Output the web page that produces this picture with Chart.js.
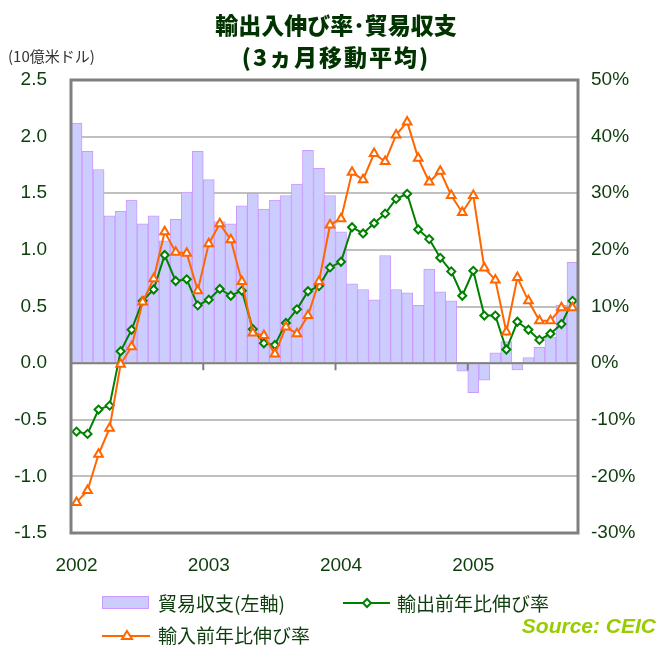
<!DOCTYPE html>
<html>
<head>
<meta charset="utf-8">
<script src="https://cdn.jsdelivr.net/npm/chart.js@4"></script>
<style>
  body { margin: 0; background: #fff; }
  #wrap { position: relative; width: 658px; height: 645px; overflow: hidden;
          font-family: "Liberation Sans", "Noto Sans CJK JP", sans-serif; }
  #chart { position: absolute; left: 0; top: 0; }
  .title { position: absolute; left: 0; width: 672px; text-align: center;
           font-family: "Noto Sans CJK JP", sans-serif; font-weight: 900;
           font-size: 23px; color: #003300; line-height: 26px; }
  .unit { position: absolute; left: 8px; top: 45px; font-size: 15px; color: #333;
          font-family: "Noto Sans CJK JP", sans-serif; }
  .leg { position: absolute; font-family: "Noto Sans CJK JP", sans-serif;
         font-size: 19px; color: #0d3d0d; line-height: 22px; white-space: nowrap; }
  .leg svg { position: absolute; }
  .source { position: absolute; right: 2px; top: 614px; font-weight: bold;
            font-style: italic; font-size: 21px; color: #99cc00; }
</style>
</head>
<body>
<div id="wrap">
  <canvas id="chart" width="658" height="645"></canvas>
  <div class="title" style="top:11px">輸出入伸び率･貿易収支</div>
  <div class="title" style="top:43px; letter-spacing:2px">(3ヵ月移動平均)</div>
  <div class="unit">(10億米ドル)</div>

  <div class="leg" style="left:102px; top:592px; padding-left:56px">
    <svg width="48" height="14" style="left:0; top:4px"><rect x="0.5" y="0.5" width="46" height="12" fill="#ccccff" stroke="#cc99ff"/></svg>
    貿易収支(左軸)
  </div>
  <div class="leg" style="left:343px; top:592px; padding-left:54px">
    <svg width="48" height="14" style="left:0; top:4px"><line x1="0" y1="7" x2="47" y2="7" stroke="#008000" stroke-width="2"/><polygon points="24,3 28,7 24,11 20,7" fill="#fff" stroke="#008000" stroke-width="2"/></svg>
    輸出前年比伸び率
  </div>
  <div class="leg" style="left:102px; top:624px; padding-left:56px">
    <svg width="50" height="14" style="left:0; top:4px"><line x1="0" y1="8" x2="48" y2="8" stroke="#ff6600" stroke-width="2"/><polygon points="25,3 30,11 20,11" fill="#fff" stroke="#ff6600" stroke-width="2"/></svg>
    輸入前年比伸び率
  </div>
  <div class="source">Source: CEIC</div>
</div>

<script>
// --- DATA ---
const years = [2002, 2003, 2004, 2005];
const months = [];
years.forEach(y => { for (let m = 1; m <= 12; m++) months.push(y + '-' + m); });
months.length = 46; // Jan 2002 .. Oct 2005

// trade balance, 10 bn USD (left axis)
const tradeBalance = [
  2.12, 1.87, 1.71, 1.30, 1.34, 1.44, 1.23, 1.30, 1.08, 1.27, 1.51, 1.87,
  1.62, 1.25, 1.23, 1.39, 1.50, 1.36, 1.44, 1.48, 1.58, 1.88, 1.72, 1.48,
  1.16, 0.70, 0.65, 0.56, 0.95, 0.65, 0.62, 0.51, 0.83, 0.63, 0.55, -0.07,
  -0.26, -0.15, 0.09, 0.19, -0.06, 0.05, 0.14, 0.23, 0.51, 0.89
];
// export growth yoy, % (right axis)
const exportGrowth = [
  -12.1, -12.5, -8.2, -7.5, 2.1, 5.9, 11.0, 13.0, 19.1, 14.5, 14.8, 10.2,
  11.2, 13.1, 11.9, 12.8, 6.0, 3.5, 3.2, 7.1, 9.5, 12.7, 13.6, 16.9,
  17.9, 24.0, 22.9, 24.7, 26.4, 29.0, 29.9, 23.6, 21.9, 18.6, 16.2, 11.9,
  16.3, 8.4, 8.4, 2.4, 7.3, 5.9, 4.1, 5.2, 6.9, 11.0
];
// import growth yoy, % (right axis)
const importGrowth = [
  -24.6, -22.5, -16.1, -11.5, -0.2, 2.9, 10.8, 14.9, 23.2, 19.6, 19.4, 12.8,
  21.1, 24.6, 21.8, 14.4, 5.3, 4.9, 1.6, 6.4, 5.2, 8.4, 14.4, 24.4,
  25.5, 33.7, 32.4, 37.0, 35.6, 40.3, 42.6, 36.2, 32.0, 33.9, 29.6, 26.6,
  29.6, 16.8, 14.7, 5.5, 15.1, 11.0, 7.5, 7.5, 9.8, 9.8
];
const leftTicks = { min: -1.5, max: 2.5, step: 0.5 };
const rightTicks = { min: -30, max: 50, step: 10 };

const tickFont = { family: '"Liberation Sans", Arial, sans-serif', size: 19 };
const tickColor = '#0d3d0d';

// frame, zero line and year tick marks
const framePlugin = {
  id: 'frame',
  afterDatasetDraw(chart, args) {
    if (args.meta.type !== 'bar') return;
    const { ctx, chartArea: a, scales } = chart;
    const y0 = scales.y.getPixelForValue(0);
    ctx.save();
    ctx.strokeStyle = '#808080';
    ctx.lineWidth = 2;
    ctx.beginPath();
    ctx.moveTo(a.left, y0);
    ctx.lineTo(a.right, y0);
    for (let i = 12; i < months.length; i += 12) {
      const x = (scales.x.getPixelForValue(i - 1) + scales.x.getPixelForValue(i)) / 2;
      ctx.moveTo(x, y0);
      ctx.lineTo(x, y0 + 7);
    }
    ctx.stroke();
    ctx.restore();
  },
  afterDraw(chart) {
    const { ctx, chartArea: a } = chart;
    ctx.save();
    ctx.strokeStyle = '#808080';
    ctx.lineWidth = 3;
    ctx.strokeRect(a.left, a.top, a.right - a.left, a.bottom - a.top);
    ctx.restore();
  }
};

new Chart(document.getElementById('chart'), {
  type: 'bar',
  data: {
    labels: months,
    datasets: [
      {
        type: 'line', label: '輸入前年比伸び率', data: importGrowth, yAxisID: 'y2', order: 1,
        borderColor: '#ff6600', borderWidth: 2, pointStyle: 'triangle', pointRadius: 5,
        pointBackgroundColor: '#fff', pointBorderColor: '#ff6600', pointBorderWidth: 2
      },
      {
        type: 'line', label: '輸出前年比伸び率', data: exportGrowth, yAxisID: 'y2', order: 2,
        borderColor: '#008000', borderWidth: 2, pointStyle: 'rectRot', pointRadius: 4,
        pointBackgroundColor: '#fff', pointBorderColor: '#008000', pointBorderWidth: 2
      },
      {
        type: 'bar', label: '貿易収支(左軸)', data: tradeBalance, yAxisID: 'y', order: 3,
        backgroundColor: '#ccccff', borderColor: '#cc99ff', borderWidth: 1,
        categoryPercentage: 1, barPercentage: 1
      }
    ]
  },
  options: {
    responsive: false,
    animation: false,
    layout: { padding: { top: 80, left: 0, right: 0, bottom: 0 } },
    plugins: { legend: { display: false }, title: { display: false }, tooltip: { enabled: false } },
    scales: {
      x: {
        type: 'category', offset: true,
        grid: { display: false, drawTicks: false },
        border: { display: false },
        ticks: {
          autoSkip: false, maxRotation: 0, padding: 21, font: tickFont, color: tickColor,
          callback: (v, i) => (i % 12 === 0 ? String(years[i / 12]) : '')
        },
        afterFit: s => { s.height = 112; }
      },
      y: {
        position: 'left', min: leftTicks.min, max: leftTicks.max,
        grid: { color: '#c0c0c0', lineWidth: 2, drawTicks: false },
        border: { display: false },
        ticks: { stepSize: leftTicks.step, padding: 24, font: tickFont, color: tickColor,
                 callback: v => v.toFixed(1) },
        afterFit: s => { s.width = 71; }
      },
      y2: {
        position: 'right', min: rightTicks.min, max: rightTicks.max,
        grid: { display: false, drawTicks: false },
        border: { display: false },
        ticks: { stepSize: rightTicks.step, padding: 13, font: tickFont, color: tickColor,
                 callback: v => v + '%' },
        afterFit: s => { s.width = 80; }
      }
    }
  },
  plugins: [framePlugin]
});
</script>
</body>
</html>
